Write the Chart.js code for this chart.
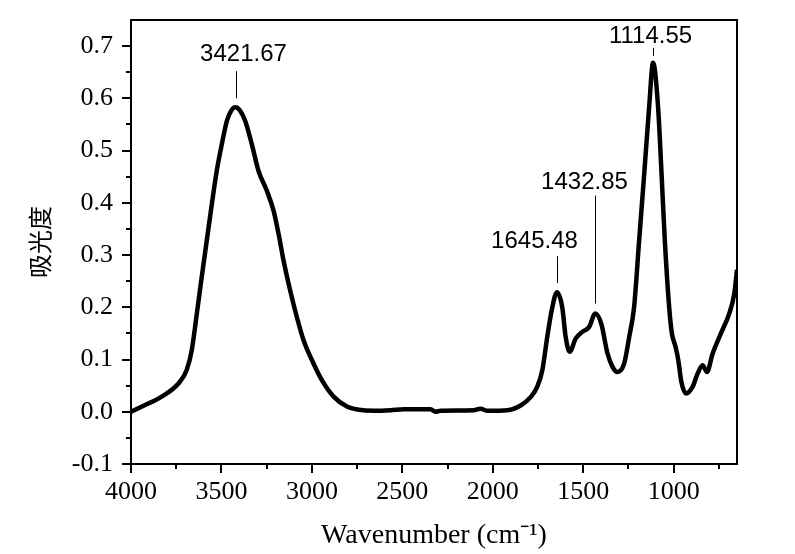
<!DOCTYPE html>
<html>
<head>
<meta charset="utf-8">
<script src="https://cdn.jsdelivr.net/npm/chart.js@4.4.1/dist/chart.umd.min.js"></script>
<style>
  html, body { margin: 0; padding: 0; background: #fff; }
  #wrap { width: 795px; height: 554px; }
</style>
</head>
<body>
<div id="wrap"><canvas id="ftir" width="795" height="554"></canvas></div>
<script>
// FTIR spectrum
const wavenumber = [4000, 3922, 3830, 3738, 3692, 3664, 3636, 3609, 3581, 3553, 3526, 3498, 3470, 3445, 3424, 3400,
  3369, 3332, 3295, 3249, 3212, 3184, 3157, 3120, 3083, 3046, 3000, 2944, 2880, 2806, 2741, 2658, 2566, 2492,
  2344, 2317, 2289, 2105, 2068, 2030, 1920, 1846, 1791, 1754, 1726, 1699, 1671, 1645, 1616, 1597, 1575, 1542,
  1505, 1468, 1433, 1400, 1366, 1338, 1311, 1274, 1246, 1219, 1191, 1163, 1136, 1114, 1086, 1067, 1049, 1025,
  1010, 990, 975, 958, 932, 895, 868, 840, 816, 785, 739, 693, 665, 650];
const absorbance = [0.000, 0.013, 0.029, 0.054, 0.080, 0.118, 0.188, 0.258, 0.328, 0.398, 0.461, 0.512, 0.557, 0.577, 0.583, 0.578,
  0.557, 0.512, 0.461, 0.423, 0.385, 0.340, 0.290, 0.232, 0.181, 0.137, 0.099, 0.060, 0.029, 0.010, 0.004, 0.002, 0.003, 0.005,
  0.005, 0.000, 0.002, 0.003, 0.006, 0.002, 0.003, 0.012, 0.028, 0.048, 0.080, 0.143, 0.200, 0.229, 0.200, 0.143, 0.115, 0.140,
  0.153, 0.162, 0.188, 0.168, 0.112, 0.086, 0.076, 0.092, 0.143, 0.200, 0.328, 0.455, 0.582, 0.668, 0.582, 0.455, 0.328, 0.200,
  0.150, 0.125, 0.100, 0.058, 0.035, 0.048, 0.073, 0.089, 0.076, 0.111, 0.150, 0.188, 0.226, 0.272];

// labelled peaks
const peakWn = [3421.67, 1645.48, 1432.85, 1114.55];
const peakAbs = [0.583, 0.229, 0.188, 0.668];

// axes
const xTicks = [4000, 3500, 3000, 2500, 2000, 1500, 1000];
const xMinor = [3750, 3250, 2750, 2250, 1750, 1250, 750];
const yTicks = [-0.1, 0.0, 0.1, 0.2, 0.3, 0.4, 0.5, 0.6, 0.7];
const yMinor = [-0.05, 0.05, 0.15, 0.25, 0.35, 0.45, 0.55, 0.65];

// label placement (pixels) for each peak
const peakGap = [9, 9, 10, 7];
const peakLine = [27, 27, 108, 8];
const peakDx = [7, -23, -11, -3];
const peakDy = [17, 15, 13, 11];

const serif = "'Liberation Serif', 'Times New Roman', serif";

const framePlugin = {
  id: 'frame',
  afterDraw(chart) {
    const { ctx, chartArea: a, scales: { x, y } } = chart;
    ctx.save();
    ctx.strokeStyle = '#000';
    ctx.lineWidth = 2;
    ctx.strokeRect(a.left, a.top, a.right - a.left, a.bottom - a.top);
    // minor ticks
    ctx.beginPath();
    xMinor.forEach(v => {
      const px = Math.round(x.getPixelForValue(v));
      ctx.moveTo(px, a.bottom);
      ctx.lineTo(px, a.bottom + 5);
    });
    yMinor.forEach(v => {
      const py = Math.round(y.getPixelForValue(v));
      ctx.moveTo(a.left, py);
      ctx.lineTo(a.left - 5, py);
    });
    ctx.stroke();
    ctx.restore();
  }
};

const peakPlugin = {
  id: 'peaks',
  afterDatasetsDraw(chart) {
    const { ctx, scales: { x, y } } = chart;
    ctx.save();
    ctx.strokeStyle = '#000';
    ctx.fillStyle = '#000';
    ctx.lineWidth = 1;
    ctx.font = "24px 'Liberation Sans', Arial, sans-serif";
    ctx.textAlign = 'center';
    ctx.textBaseline = 'middle';
    peakWn.forEach((wn, i) => {
      const px = Math.round(x.getPixelForValue(wn)) + 0.5;
      const py = y.getPixelForValue(peakAbs[i]);
      const bottom = py - peakGap[i];
      const top = bottom - peakLine[i];
      ctx.beginPath();
      ctx.moveTo(px, bottom);
      ctx.lineTo(px, top);
      ctx.stroke();
      ctx.fillText(wn.toFixed(2), px + peakDx[i], top - peakDy[i]);
    });
    ctx.restore();
  }
};

const ctx = document.getElementById('ftir').getContext('2d');

new Chart(ctx, {
  type: 'line',
  data: {
    datasets: [{
      data: wavenumber.map((w, i) => ({ x: w, y: absorbance[i] })),
      borderColor: '#000',
      borderWidth: 4.5,
      pointRadius: 0,
      fill: false,
      cubicInterpolationMode: 'monotone'
    }]
  },
  options: {
    responsive: false,
    animation: false,
    devicePixelRatio: 1,
    layout: { padding: { left: 0, right: 58, top: 20, bottom: 0 } },
    plugins: {
      legend: { display: false },
      tooltip: { enabled: false }
    },
    scales: {
      x: {
        type: 'linear',
        reverse: true,
        min: 650,
        max: 4000,
        afterBuildTicks: scale => { scale.ticks = xTicks.map(v => ({ value: v })); },
        afterFit: scale => { scale.height = 90; scale.paddingLeft = 0; scale.paddingRight = 0; },
        border: { display: true, color: '#000', width: 2 },
        grid: { display: true, drawOnChartArea: false, drawTicks: true, tickLength: 9, color: '#000', lineWidth: 2 },
        ticks: {
          color: '#000',
          padding: 4,
          maxRotation: 0,
          autoSkip: false,
          font: { family: serif, size: 26 },
          callback: v => String(v)
        },
        title: {
          display: true,
          text: 'Wavenumber (cm⁻¹)',
          color: '#000',
          font: { family: serif, size: 28 },
          padding: { top: 0, bottom: 2 }
        }
      },
      y: {
        min: -0.1,
        max: 0.75,
        afterBuildTicks: scale => { scale.ticks = yTicks.map(v => ({ value: v })); },
        afterFit: scale => { scale.width = 131; scale.paddingTop = 0; scale.paddingBottom = 0; },
        border: { display: true, color: '#000', width: 2 },
        grid: { display: true, drawOnChartArea: false, drawTicks: true, tickLength: 9, color: '#000', lineWidth: 2 },
        ticks: {
          color: '#000',
          padding: 9,
          autoSkip: false,
          font: { family: serif, size: 26 },
          callback: v => v.toFixed(1)
        },
        title: {
          display: true,
          text: '吸光度',
          color: '#000',
          font: { family: "'Noto Sans CJK SC', sans-serif", size: 24 },
          padding: { top: 25, bottom: 0 }
        }
      }
    }
  },
  plugins: [framePlugin, peakPlugin]
});
</script>
</body>
</html>
